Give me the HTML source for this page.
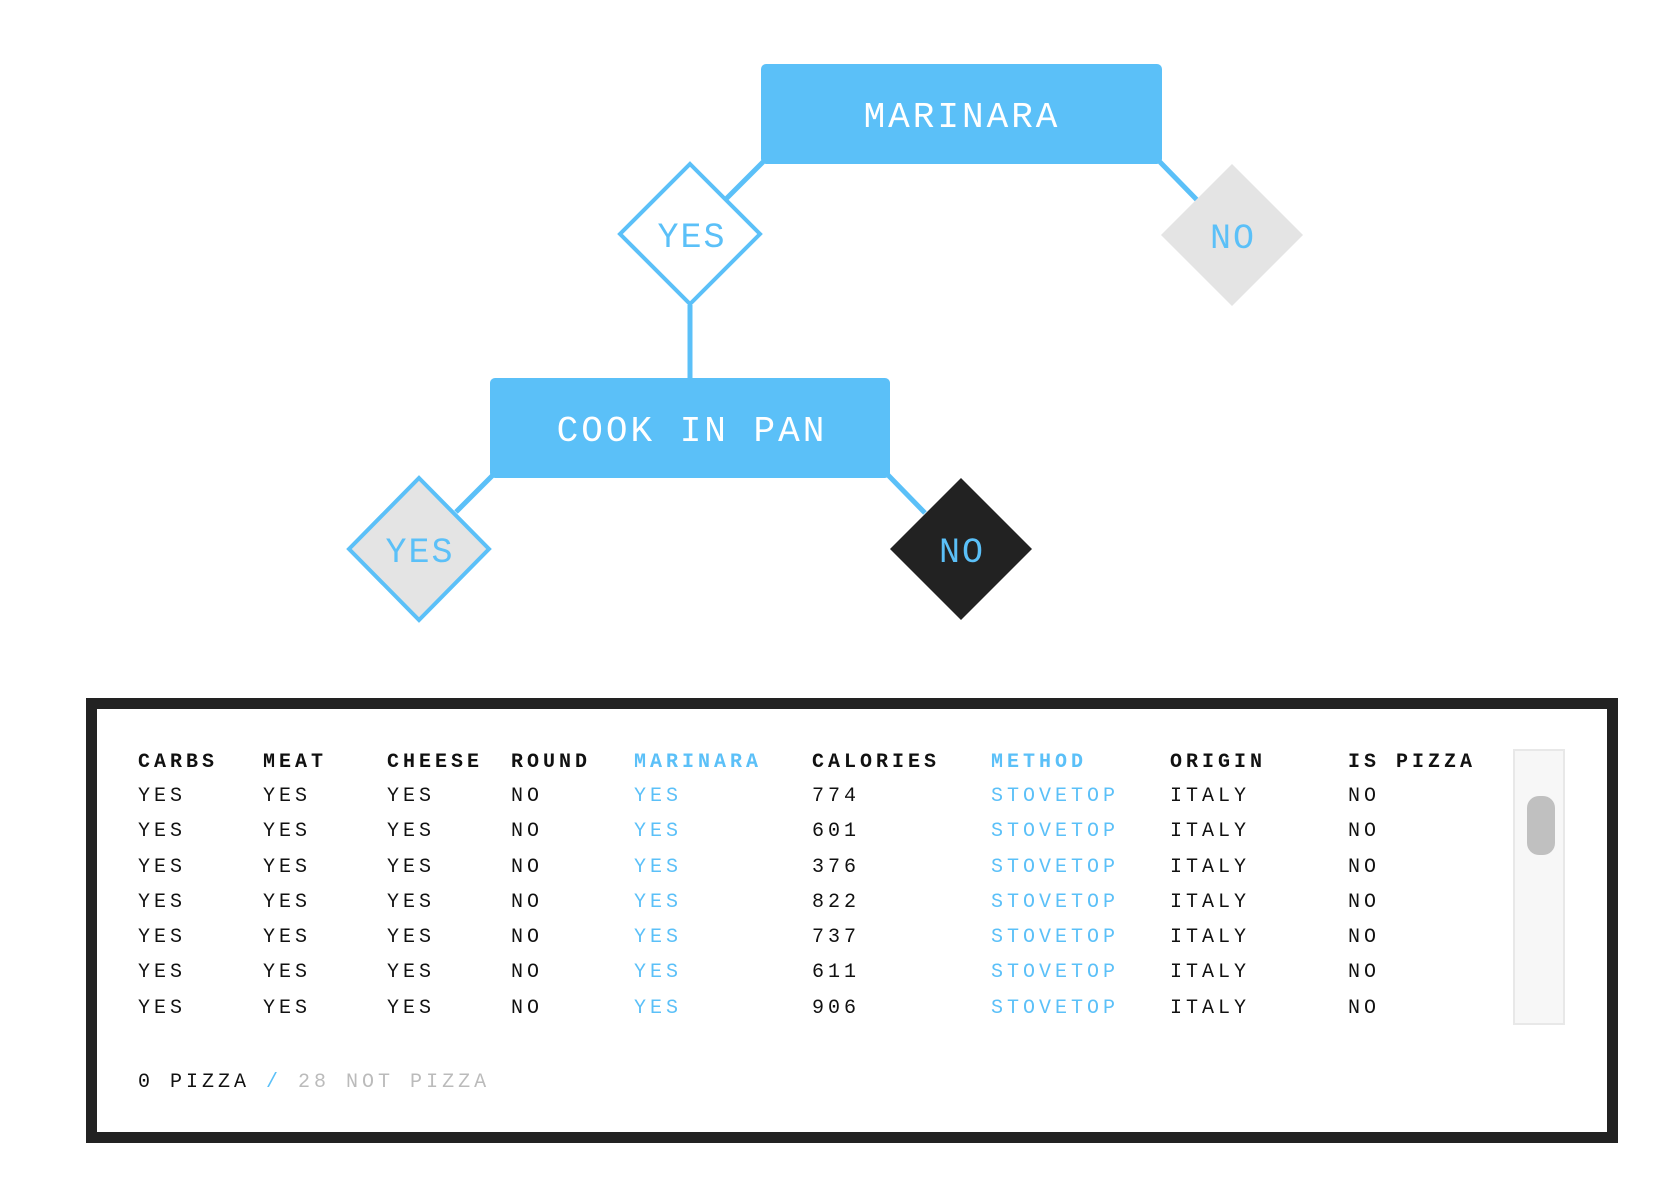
<!DOCTYPE html>
<html><head><meta charset="utf-8"><style>
html,body{margin:0;padding:0;background:#fff;width:1674px;height:1188px;overflow:hidden}
.t{position:absolute;font-family:"Liberation Mono","DejaVu Sans Mono",monospace;font-size:20px;letter-spacing:4px;color:#111;white-space:pre;line-height:20px}
.b{color:#5bc0f8}
.h{font-weight:bold}
</style></head><body>
<svg width="1674" height="1188" style="position:absolute;left:0;top:0" font-family="Liberation Mono, DejaVu Sans Mono, monospace">
<g stroke="#5bc0f8" stroke-width="5">
<line x1="763" y1="162" x2="726" y2="199"/>
<line x1="1160" y1="162" x2="1197" y2="200"/>
<line x1="690" y1="305" x2="690" y2="380"/>
<line x1="493" y1="475" x2="456" y2="512"/>
<line x1="888" y1="475" x2="925" y2="513"/>
</g>
<rect x="761" y="64" width="401" height="100" rx="5" fill="#5bc0f8"/>
<text x="962" y="127" font-size="36" fill="#fff" text-anchor="middle" letter-spacing="3">MARINARA</text>
<polygon points="690,164 760,234 690,304 620,234" fill="#fff" stroke="#5bc0f8" stroke-width="4"/>
<text x="692" y="247" font-size="35" fill="#5bc0f8" text-anchor="middle" letter-spacing="2">YES</text>
<polygon points="1232,164 1303,235 1232,306 1161,235" fill="#e4e4e4"/>
<text x="1233" y="248" font-size="35" fill="#5bc0f8" text-anchor="middle" letter-spacing="2">NO</text>
<rect x="490" y="378" width="400" height="100" rx="5" fill="#5bc0f8"/>
<text x="692" y="441" font-size="36" fill="#fff" text-anchor="middle" letter-spacing="3">COOK IN PAN</text>
<polygon points="419,478 489,549 419,620 349,549" fill="#e4e4e4" stroke="#5bc0f8" stroke-width="4"/>
<text x="420" y="562" font-size="35" fill="#5bc0f8" text-anchor="middle" letter-spacing="2">YES</text>
<polygon points="961,478 1032,549 961,620 890,549" fill="#222"/>
<text x="962" y="562" font-size="35" fill="#5bc0f8" text-anchor="middle" letter-spacing="2">NO</text>
<rect x="91.5" y="703.5" width="1521" height="434" fill="#fff" stroke="#222" stroke-width="11"/>
<rect x="1514" y="750" width="50" height="274" fill="#f7f7f7" stroke="#e8e8e8" stroke-width="2"/>
<rect x="1527" y="796" width="28" height="59" rx="12" fill="#c0c0c0"/>
</svg>
<div class="t h" style="left:138px;top:753px">CARBS</div>
<div class="t h" style="left:263px;top:753px">MEAT</div>
<div class="t h" style="left:387px;top:753px">CHEESE</div>
<div class="t h" style="left:511px;top:753px">ROUND</div>
<div class="t h b" style="left:634px;top:753px">MARINARA</div>
<div class="t h" style="left:812px;top:753px">CALORIES</div>
<div class="t h b" style="left:991px;top:753px">METHOD</div>
<div class="t h" style="left:1170px;top:753px">ORIGIN</div>
<div class="t h" style="left:1348px;top:753px">IS PIZZA</div>
<div class="t" style="left:138px;top:1073px">0 PIZZA <span class="b">/</span> <span style="color:#bbb">28 NOT PIZZA</span></div>
<div class="t" style="left:138px;top:779px;line-height:35.3px">YES
YES
YES
YES
YES
YES
YES</div>
<div class="t" style="left:263px;top:779px;line-height:35.3px">YES
YES
YES
YES
YES
YES
YES</div>
<div class="t" style="left:387px;top:779px;line-height:35.3px">YES
YES
YES
YES
YES
YES
YES</div>
<div class="t" style="left:511px;top:779px;line-height:35.3px">NO
NO
NO
NO
NO
NO
NO</div>
<div class="t b" style="left:634px;top:779px;line-height:35.3px">YES
YES
YES
YES
YES
YES
YES</div>
<div class="t" style="left:812px;top:779px;line-height:35.3px">774
601
376
822
737
611
906</div>
<div class="t b" style="left:991px;top:779px;line-height:35.3px">STOVETOP
STOVETOP
STOVETOP
STOVETOP
STOVETOP
STOVETOP
STOVETOP</div>
<div class="t" style="left:1170px;top:779px;line-height:35.3px">ITALY
ITALY
ITALY
ITALY
ITALY
ITALY
ITALY</div>
<div class="t" style="left:1348px;top:779px;line-height:35.3px">NO
NO
NO
NO
NO
NO
NO</div>
</body></html>
